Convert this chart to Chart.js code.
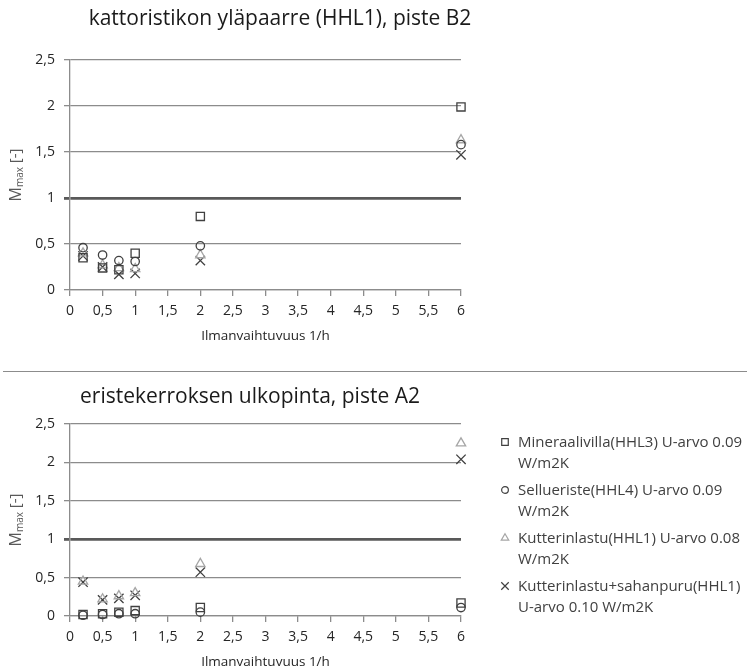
<!DOCTYPE html>
<html>
<head>
<meta charset="utf-8">
<script src="https://cdn.jsdelivr.net/npm/chart.js@4.4.1/dist/chart.umd.min.js"></script>
<style>
  body { margin: 0; background: #fff; width: 747px; height: 671px; overflow: hidden; position: relative; font-family: "Open Sans", sans-serif; }
  #topWrap { position: absolute; left: 0; top: 0; width: 560px; height: 372px; }
  #botWrap { position: absolute; left: 0; top: 372px; width: 500px; height: 299px; }
  #sep { position: absolute; left: 3px; top: 371px; width: 744px; height: 0; border-top: 1.5px solid #8c8c8c; }
  #legend { position: absolute; left: 496px; top: 431px; width: 251px; color: #404040; font-size: 15px; }
  .item { position: relative; padding-left: 22px; line-height: 21px; margin-bottom: 6px; white-space: nowrap; }
  .item canvas { position: absolute; left: 2px; top: 4px; }
</style>
</head>
<body>
<div id="topWrap"><canvas id="top"></canvas></div>
<div id="sep"></div>
<div id="botWrap"><canvas id="bottom"></canvas></div>
<div id="legend"></div>
<script>
const xValues = [0.2, 0.5, 0.75, 1, 2, 6];

const seriesLabels = [
    ['Mineraalivilla(HHL3) U-arvo 0.09', 'W/m2K'],
    ['Sellueriste(HHL4)  U-arvo 0.09', 'W/m2K'],
    ['Kutterinlastu(HHL1) U-arvo 0.08', 'W/m2K'],
    ['Kutterinlastu+sahanpuru(HHL1)', 'U-arvo 0.10 W/m2K']
];

// kattoristikon yläpaarre, piste B2
const topMineraalivilla = [0.35, 0.24, 0.22, 0.40, 0.80, 1.99];
const topSellueriste = [0.46, 0.38, 0.32, 0.31, 0.48, 1.58];
const topKutterinlastu = [0.40, 0.27, 0.24, 0.23, 0.38, 1.63];
const topKutterSahanpuru = [0.37, 0.25, 0.17, 0.18, 0.32, 1.47];

// eristekerroksen ulkopinta, piste A2
const botMineraalivilla = [0.02, 0.03, 0.05, 0.07, 0.11, 0.17];
const botSellueriste = [0.01, 0.02, 0.03, 0.03, 0.05, 0.11];
const botKutterinlastu = [0.45, 0.22, 0.26, 0.30, 0.68, 2.25];
const botKutterSahanpuru = [0.44, 0.21, 0.23, 0.27, 0.57, 2.04];

const xTicks = [0, 0.5, 1, 1.5, 2, 2.5, 3, 3.5, 4, 4.5, 5, 5.5, 6];
const yTicks = [0, 0.5, 1, 1.5, 2, 2.5];

const markerStyles = [
    { pointStyle: 'rect', radius: 5.8, color: '#404040' },
    { pointStyle: 'circle', radius: 4.2, color: '#404040' },
    { pointStyle: 'triangle', radius: 5.4, color: '#a6a6a6' },
    { pointStyle: 'crossRot', radius: 6.6, color: '#404040' }
];

const FONT = '"Open Sans", sans-serif';
const comma = v => String(v).replace('.', ',');

function makeDatasets(seriesList) {
    return seriesList.map((values, i) => ({
        label: seriesLabels[i].join(' '),
        data: values.map((y, j) => ({ x: xValues[j], y: y })),
        pointStyle: markerStyles[i].pointStyle,
        pointRadius: markerStyles[i].radius,
        pointBorderColor: markerStyles[i].color,
        pointBackgroundColor: 'rgba(0,0,0,0)',
        pointBorderWidth: 1.3,
        showLine: false,
        clip: false
    }));
}

// chart title (off-centre like the original) and y axis title with subscript
const textPlugin = {
    id: 'texts',
    afterDraw(chart, args, opts) {
        const ctx = chart.ctx;
        const a = chart.chartArea;
        ctx.save();
        ctx.fillStyle = '#1a1a1a';
        ctx.font = '21px ' + FONT;
        ctx.textAlign = 'center';
        ctx.textBaseline = 'middle';
        ctx.fillText(opts.title, opts.titleX, opts.titleY);

        ctx.translate(16, (a.top + a.bottom) / 2);
        ctx.rotate(-Math.PI / 2);
        ctx.fillStyle = '#595959';
        ctx.font = '16px ' + FONT;
        const w1 = ctx.measureText('M').width;
        ctx.font = '10px ' + FONT;
        const w2 = ctx.measureText('max').width;
        ctx.font = '15px ' + FONT;
        const w3 = ctx.measureText(' [-]').width;
        let x = -(w1 + w2 + w3) / 2;
        ctx.textAlign = 'left';
        ctx.font = '16px ' + FONT;
        ctx.fillText('M', x, 0);
        x += w1;
        ctx.font = '10px ' + FONT;
        ctx.fillText('max', x, 4);
        x += w2;
        ctx.font = '15px ' + FONT;
        ctx.fillText(' [-]', x, 0);
        ctx.restore();
    }
};

function makeChart(id, title, seriesList, opts) {
    const ctx = document.getElementById(id).getContext('2d');
    return new Chart(ctx, {
        type: 'scatter',
        data: { datasets: makeDatasets(seriesList) },
        options: {
            responsive: true, maintainAspectRatio: false, animation: false,
            layout: { padding: { left: 0, right: opts.padRight, top: opts.padTop, bottom: opts.padBottom } },
            scales: {
                x: {
                    type: 'linear', min: 0, max: 6,
                    afterBuildTicks: s => { s.ticks = xTicks.map(v => ({ value: v })); },
                    ticks: { callback: comma, color: '#262626', font: { family: FONT, size: 14 }, padding: 7, maxRotation: 0, autoSkip: false },
                    grid: { drawOnChartArea: false, drawTicks: true, tickLength: 6, color: '#8c8c8c', lineWidth: 1.3 },
                    border: { display: true, color: '#8c8c8c', width: 1.3 },
                    title: { display: true, text: 'Ilmanvaihtuvuus 1/h', color: '#262626', font: { family: FONT, size: 13.5 }, padding: { top: 1, bottom: 1 } }
                },
                y: {
                    type: 'linear', min: 0, max: 2.5,
                    afterBuildTicks: s => { s.ticks = yTicks.map(v => ({ value: v })); },
                    afterFit: s => { s.width = 70; },
                    ticks: { callback: comma, color: '#262626', font: { family: FONT, size: 14 }, padding: 9 },
                    grid: {
                        tickLength: 6,
                        color: c => c.tick && c.tick.value === 1 ? '#595959' : '#8c8c8c',
                        lineWidth: c => c.tick && c.tick.value === 1 ? 2.8 : 1.3
                    },
                    border: { display: true, color: '#8c8c8c', width: 1.3 }
                }
            },
            plugins: {
                legend: { display: false },
                tooltip: { enabled: false },
                title: { display: false },
                texts: { title: title, titleX: opts.titleX, titleY: opts.titleY }
            }
        },
        plugins: [textPlugin]
    });
}

makeChart('top', 'kattoristikon yläpaarre (HHL1), piste B2',
    [topMineraalivilla, topSellueriste, topKutterinlastu, topKutterSahanpuru],
    { padRight: 99, padTop: 60, padBottom: 27, titleX: 280, titleY: 19 });

makeChart('bottom', 'eristekerroksen ulkopinta, piste A2',
    [botMineraalivilla, botSellueriste, botKutterinlastu, botKutterSahanpuru],
    { padRight: 39, padTop: 52, padBottom: 0, titleX: 250, titleY: 25 });

// HTML legend
const legend = document.getElementById('legend');
seriesLabels.forEach((lines, i) => {
    const item = document.createElement('div');
    item.className = 'item';
    const c = document.createElement('canvas');
    c.width = 14; c.height = 14;
    const mctx = c.getContext('2d');
    mctx.strokeStyle = markerStyles[i].color;
    mctx.fillStyle = 'rgba(0,0,0,0)';
    mctx.lineWidth = 1.2;
    Chart.helpers.drawPoint(mctx, { pointStyle: markerStyles[i].pointStyle, radius: markerStyles[i].radius * 0.8, borderWidth: 1.2 }, 7, 7);
    item.appendChild(c);
    lines.forEach(t => {
        const d = document.createElement('div');
        d.textContent = t;
        item.appendChild(d);
    });
    legend.appendChild(item);
});
</script>
</body>
</html>
